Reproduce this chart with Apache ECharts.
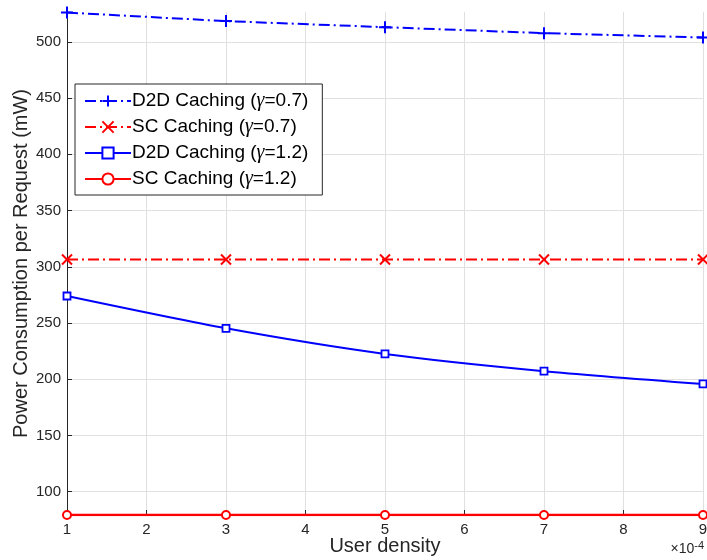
<!DOCTYPE html>
<html><head><meta charset="utf-8">
<script src="https://cdn.jsdelivr.net/npm/echarts@6/dist/echarts.min.js"></script>
<style>html,body{margin:0;padding:0;background:#fff}#c{width:707px;height:560px}</style>
</head><body><div id="c"></div>
<script>
const xValues = [1, 3, 5, 7, 9];
const d2d07 = [526, 518.4, 513, 507.7, 503.8];
const sc07 = [306.5, 306.5, 306.5, 306.5, 306.5];
const d2d12 = [274, 245.3, 222.5, 207.2, 195.8];
const sc12 = [79.3, 79.3, 79.3, 79.3, 79.3];
const yTicks = [100, 150, 200, 250, 300, 350, 400, 450, 500];
const xTicks = [1, 2, 3, 4, 5, 6, 7, 8, 9];
const seriesNames = ['D2D Caching (γ=0.7)', 'SC Caching (γ=0.7)', 'D2D Caching (γ=1.2)', 'SC Caching (γ=1.2)'];

const FONT = 'Liberation Sans, Arial, Helvetica, sans-serif';
const BLUE = '#0000ff', RED = '#ff0000';
const dashDot = [11, 4, 2, 4];
const plusPath = 'path://M0,-10L0,10M-10,0L10,0';
const crossPath = 'path://M-10,-10L10,10M-10,10L10,-10';

function pairs(ys) { return xValues.map((x, i) => [x, ys[i]]); }

const chart = echarts.init(document.getElementById('c'), null, {renderer: 'canvas'});
chart.setOption({
  animation: false,
  backgroundColor: '#fff',
  grid: {left: 67, right: 4, top: 12, bottom: 45, containLabel: false, outerBoundsMode: 'none'},
  xAxis: {
    type: 'value', min: 1, max: 9, interval: 1,
    axisLine: {show: true, onZero: false, lineStyle: {color: '#262626', width: 1}},
    axisTick: {show: true, inside: true, length: 5, customValues: xTicks, lineStyle: {color: '#262626'}},
    axisLabel: {color: '#262626', fontFamily: FONT, fontSize: 15, margin: 7, customValues: xTicks},
    splitLine: {show: true, lineStyle: {color: '#e0e0e0', width: 1}},
    name: 'User density', nameLocation: 'middle', nameGap: 21, nameMoveOverlap: false,
    nameTextStyle: {color: '#262626', fontFamily: FONT, fontSize: 20}
  },
  yAxis: {
    type: 'value', min: 79.3, max: 526.5,
    axisLine: {show: true, lineStyle: {color: '#262626', width: 1}},
    axisTick: {show: true, inside: true, length: 5, customValues: yTicks, lineStyle: {color: '#262626'}},
    axisLabel: {color: '#262626', fontFamily: FONT, fontSize: 15, margin: 6, customValues: yTicks},
    splitLine: {show: true, lineStyle: {color: '#e0e0e0', width: 1}},
    name: 'Power Consumption per Request (mW)', nameLocation: 'middle', nameGap: 36, nameMoveOverlap: false,
    nameTextStyle: {color: '#262626', fontFamily: FONT, fontSize: 20}
  },
  legend: {
    show: true, orient: 'vertical', left: 75, top: 84,
    padding: [7, 14, 6, 9], itemGap: 6, itemWidth: 46, itemHeight: 14,
    backgroundColor: '#fff', borderColor: '#262626', borderWidth: 1, borderRadius: 0,
    data: seriesNames,
    formatter: function (n) { return n.replace('γ', '{g|γ}'); },
    textStyle: {color: '#000', fontFamily: FONT, fontSize: 19, padding: [0, 0, 0, -4],
      rich: {g: {fontFamily: 'Liberation Serif, Times New Roman, serif', fontStyle: 'italic', fontSize: 20, color: '#000'}}}
  },
  series: [
    {name: seriesNames[0], type: 'line', data: pairs(d2d07), symbol: plusPath, symbolSize: 12,
      lineStyle: {color: BLUE, width: 2, type: dashDot}, itemStyle: {color: 'none', borderColor: BLUE, borderWidth: 2}},
    {name: seriesNames[1], type: 'line', data: pairs(sc07), symbol: crossPath, symbolSize: 10,
      lineStyle: {color: RED, width: 2, type: dashDot}, itemStyle: {color: 'none', borderColor: RED, borderWidth: 2}},
    {name: seriesNames[2], type: 'line', data: pairs(d2d12), symbol: 'rect', symbolSize: 7, smooth: 0.25,
      lineStyle: {color: BLUE, width: 2}, itemStyle: {color: '#fff', borderColor: BLUE, borderWidth: 1.8}},
    {name: seriesNames[3], type: 'line', data: pairs(sc12), symbol: 'circle', symbolSize: 8,
      lineStyle: {color: RED, width: 2.5}, itemStyle: {color: '#fff', borderColor: RED, borderWidth: 2}}
  ],
  graphic: [{
    type: 'text', right: 3, top: 540,
    style: {text: '×10{s|-4}', fill: '#262626', font: '14px ' + FONT,
      rich: {s: {fontSize: 11, fontFamily: FONT, verticalAlign: 'top', padding: [0, 0, 8, 0], fill: '#262626'}}}
  }]
});
</script></body></html>
